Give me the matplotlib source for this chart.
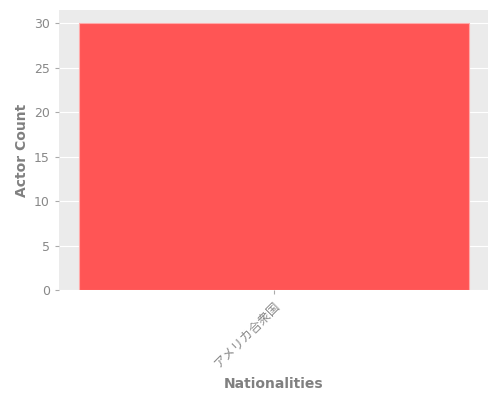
import matplotlib.pyplot as plt

plt.rcParams['font.family'] = ['DejaVu Sans', 'Noto Sans CJK JP']

nationalities = ['アメリカ合衆国']
actor_counts = [30]

fig, ax = plt.subplots(figsize=(5, 4), dpi=100)
fig.subplots_adjust(left=0.118, right=0.976, top=0.975, bottom=0.275)
ax.set_facecolor('#ebebeb')
ax.bar(nationalities, actor_counts, width=0.78, color='#ff5555',
       edgecolor='#ffaaaa', linewidth=0.8, zorder=2)
ax.grid(axis='y', color='white', linewidth=0.8, zorder=0)
ax.set_axisbelow(True)
for s in ax.spines.values():
    s.set_visible(False)
ax.tick_params(colors='#888888', labelsize=9, length=3, color='#aaaaaa')
plt.setp(ax.get_xticklabels(), rotation=45, ha='right', rotation_mode='anchor')
ax.set_xlabel('Nationalities', color='#808080', fontsize=10, fontweight='bold', labelpad=5)
ax.set_ylabel('Actor Count', color='#808080', fontsize=10, fontweight='bold', labelpad=4)
fig.savefig('out.png')
